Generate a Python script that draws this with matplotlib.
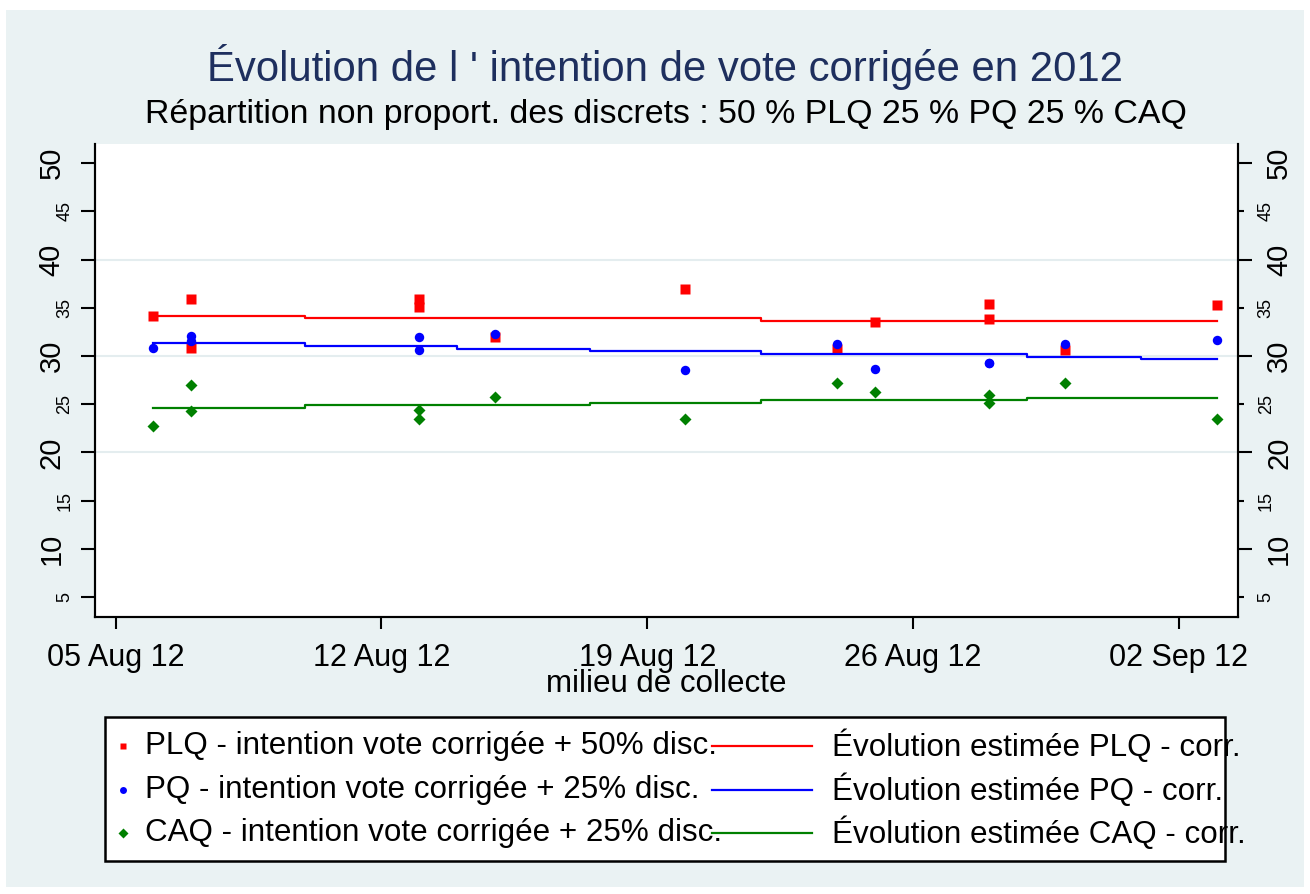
import matplotlib
matplotlib.use('Agg')
import matplotlib.pyplot as plt
import matplotlib.dates as mdates
from matplotlib.lines import Line2D
from matplotlib.patches import Rectangle
from matplotlib.transforms import Affine2D
import pandas as pd

plt.rcParams['font.family'] = ['Liberation Sans', 'DejaVu Sans']

# poll dates (middle of collection) and corrected vote intention
poll_dates = pd.to_datetime(['2012-08-06', '2012-08-07', '2012-08-07', '2012-08-13', '2012-08-13',
                             '2012-08-15', '2012-08-20', '2012-08-24', '2012-08-25', '2012-08-28',
                             '2012-08-28', '2012-08-30', '2012-09-03'])
plq = [34.1, 35.9, 30.8, 35.9, 35.1, 32.0, 37.0, 30.7, 33.5, 35.4, 33.8, 30.6, 35.3]
pq = [30.8, 32.1, 31.6, 32.0, 30.6, 32.3, 28.5, 31.2, 28.7, 29.3, 29.3, 31.2, 31.7]
caq = [22.7, 27.0, 24.3, 24.4, 23.5, 25.7, 23.5, 27.2, 26.3, 26.0, 25.1, 27.2, 23.5]

# estimated evolution (step changes)
trend_dates = pd.to_datetime(['2012-08-06 00:00', '2012-08-10 00:00', '2012-08-14 00:00', '2012-08-17 12:00',
                              '2012-08-22 00:00', '2012-08-29 00:00', '2012-09-01 00:00', '2012-09-03 00:00'])
plq_trend = [34.2, 33.93, 33.93, 33.93, 33.65, 33.65, 33.65, 33.65]
pq_trend = [31.33, 30.99, 30.71, 30.47, 30.2, 29.92, 29.67, 29.67]
caq_trend = [24.6, 24.87, 24.87, 25.11, 25.39, 25.67, 25.67, 25.67]

x_ticks = pd.to_datetime(['2012-08-05', '2012-08-12', '2012-08-19', '2012-08-26', '2012-09-02'])
y_major = [10, 20, 30, 40, 50]
y_minor = [5, 15, 25, 35, 45]
y_grid = [20, 30, 40]

point_labels = ['PLQ - intention vote corrigée + 50% disc.',
                'PQ - intention vote corrigée + 25% disc.',
                'CAQ - intention vote corrigée + 25% disc.']
line_labels = ['Évolution estimée PLQ - corr.',
               'Évolution estimée PQ - corr.',
               'Évolution estimée CAQ - corr.']

BG = '#EAF2F3'
W, H = 1310, 894
fig = plt.figure(figsize=(W / 100, H / 100), dpi=100, facecolor='white')
pix = Affine2D().scale(1 / W, -1 / H).translate(0, 1) + fig.transFigure
fig.add_artist(Rectangle((6, 10), 1298, 877, transform=pix, facecolor=BG, edgecolor='none', zorder=0))

left, right, top, bottom = 95, 1238, 144, 617.3
ax = fig.add_axes([left / W, 1 - bottom / H, (right - left) / W, (bottom - top) / H])
ax.set_facecolor('white')

for v in y_grid:
    ax.axhline(v, color='#E4EDEF', lw=1.5, zorder=0)

ax.plot(poll_dates, plq, 's', color='red', ms=7, mec='none')
ax.plot(poll_dates, pq, 'o', color='blue', ms=6.8, mec='none')
ax.plot(poll_dates, caq, 'D', color='green', ms=6.5, mec='none')
ax.plot(trend_dates, plq_trend, color='red', lw=1.6, drawstyle='steps-post')
ax.plot(trend_dates, pq_trend, color='blue', lw=1.6, drawstyle='steps-post')
ax.plot(trend_dates, caq_trend, color='green', lw=1.6, drawstyle='steps-post')

x0 = mdates.date2num(pd.Timestamp('2012-08-05'))
ax.set_xlim(x0 - 0.54, x0 + 29.555)
ax.set_ylim(2.88, 52.0)

ax.set_xticks(x_ticks)
ax.xaxis.set_major_formatter(mdates.DateFormatter('%d %b %y'))
ax.tick_params(axis='x', length=8.6, width=1.5, pad=10, labelsize=22)
ax.set_xlabel('milieu de collecte', fontsize=22.5)
ax.xaxis.set_label_coords(0.5, -(684 - bottom) / (bottom - top))
ax.xaxis.label.set_va('center')

ax.set_yticks(y_major)
ax.set_yticklabels(y_major, rotation=90, va='center', ha='right', fontsize=21)
ax.set_yticks(y_minor, minor=True)
ax.set_yticklabels(y_minor, minor=True, rotation=90, va='center', ha='right', fontsize=13)
ax.tick_params(axis='y', which='major', length=10, width=1.5, pad=11)
ax.tick_params(axis='y', which='minor', length=10, width=1.5, pad=5.5)

ax2 = ax.twinx()
ax2.set_ylim(ax.get_ylim())
ax2.set_yticks(y_major)
ax2.set_yticklabels(y_major, rotation=90, va='center', ha='left', fontsize=21)
ax2.set_yticks(y_minor, minor=True)
ax2.set_yticklabels(y_minor, minor=True, rotation=90, va='center', ha='left', fontsize=13)
ax2.tick_params(axis='y', which='major', length=10, width=1.5, pad=9.6)
ax2.tick_params(axis='y', which='minor', length=4.3, width=1.5, pad=9.9)

for a in (ax, ax2):
    a.spines['top'].set_visible(False)
    for s in ('left', 'right', 'bottom'):
        a.spines[s].set_linewidth(1.5)

fig.text(665 / W, 1 - 67 / H, "Évolution de l ' intention de vote corrigée en 2012",
         ha='center', va='center', fontsize=30.2, color='#1E2F5E')
fig.text(666 / W, 1 - 115 / H, 'Répartition non proport. des discrets : 50 % PLQ 25 % PQ 25 % CAQ',
         ha='center', va='center', fontsize=24.4, color='black')

# legend box (text overflows the frame, as in the original)
fig.add_artist(Rectangle((105, 717), 1120, 144, transform=pix, facecolor='white', edgecolor='none', zorder=1))
fig.add_artist(Rectangle((105, 717), 1120, 144, transform=pix, facecolor='none', edgecolor='black',
                         lw=1.8, zorder=5))
rows = [746, 790, 833]
colors = ['red', 'blue', 'green']
markers = ['s', 'o', 'D']
for y, c, m, lab1, lab2 in zip(rows, colors, markers, point_labels, line_labels):
    fig.add_artist(Line2D([123], [y], marker=m, color=c, ms=5, mec='none', ls='none', transform=pix, zorder=3))
    fig.add_artist(Line2D([712, 812], [y, y], color=c, lw=1.6, transform=pix, zorder=3))
    fig.text(145 / W, 1 - y / H, lab1, ha='left', va='center', fontsize=22.6, zorder=3)
    fig.text(832 / W, 1 - y / H, lab2, ha='left', va='center', fontsize=22.6, zorder=3)

fig.savefig('out.png', dpi=100, facecolor=fig.get_facecolor())
